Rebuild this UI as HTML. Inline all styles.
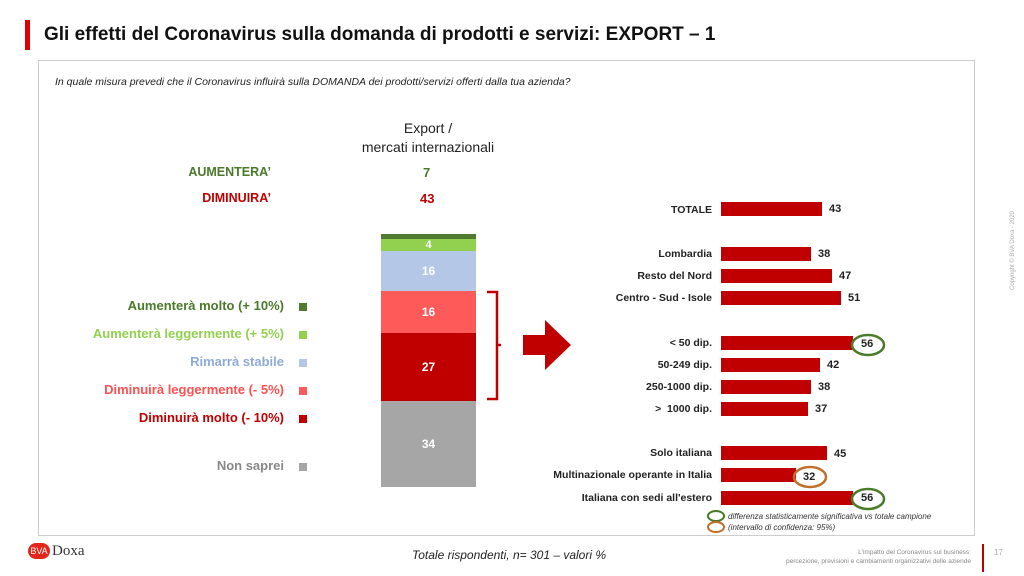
<!DOCTYPE html><html><head><meta charset="utf-8"><style>
body{margin:0;width:1024px;height:576px;background:#fff;font-family:"Liberation Sans",sans-serif;position:relative;overflow:hidden}
.a{position:absolute;white-space:nowrap}
.b{font-weight:bold}
.bar{position:absolute;left:721px;height:14px;background:#c00000}
.rl{position:absolute;right:312px;font-size:10.5px;font-weight:bold;color:#222;white-space:nowrap}
.rv{position:absolute;font-size:11px;font-weight:bold;color:#222}
.lg{position:absolute;right:740px;font-size:13px;font-weight:bold;white-space:nowrap}
.sq{position:absolute;left:299px;width:8px;height:8px}
.seg{position:absolute;left:381px;width:95px;color:#fff;font-weight:bold;font-size:12px;text-align:center;display:flex;align-items:center;justify-content:center}
</style></head><body>
<div class="a" style="left:25px;top:20px;width:5px;height:30px;background:#e00000"></div>
<div class="a b" style="left:44px;top:24px;font-size:19px;color:#111">Gli effetti del Coronavirus sulla domanda di prodotti e servizi: EXPORT – 1</div>
<div class="a" style="left:38px;top:60px;width:935px;height:474px;border:1.5px solid #ccc"></div>
<div class="a" style="left:55px;top:76px;font-size:10.5px;font-style:italic;color:#222">In quale misura prevedi che il Coronavirus influirà sulla DOMANDA dei prodotti/servizi offerti dalla tua azienda?</div>
<div class="a" style="left:328px;top:119px;width:200px;text-align:center;font-size:14px;color:#222;line-height:19px">Export /<br>mercati internazionali</div>
<div class="a b" style="right:753px;top:165px;font-size:12.5px;color:#4a7a2a">AUMENTERA’</div>
<div class="a b" style="right:753px;top:191px;font-size:12.5px;color:#c00000">DIMINUIRA’</div>
<div class="a b" style="left:423px;top:165px;font-size:13px;color:#4a7a2a">7</div>
<div class="a b" style="left:420px;top:191px;font-size:13px;color:#c00000">43</div>
<div class="seg" style="top:234px;height:5px;background:#4f7a30"></div>
<div class="seg" style="top:239px;height:12px;background:#92d050;font-size:11px">4</div>
<div class="seg" style="top:251px;height:40px;background:#b4c7e7">16</div>
<div class="seg" style="top:291px;height:42px;background:#ff5a5a">16</div>
<div class="seg" style="top:333px;height:68px;background:#c00000">27</div>
<div class="seg" style="top:401px;height:86px;background:#a6a6a6">34</div>
<div class="lg" style="top:298px;color:#4a7a2a">Aumenterà molto (+ 10%)</div><div class="sq" style="top:303px;background:#4f7a30"></div>
<div class="lg" style="top:326px;color:#92d050">Aumenterà leggermente (+ 5%)</div><div class="sq" style="top:331px;background:#92d050"></div>
<div class="lg" style="top:354px;color:#8eaadb">Rimarrà stabile</div><div class="sq" style="top:359px;background:#b4c7e7"></div>
<div class="lg" style="top:382px;color:#ff5050">Diminuirà leggermente (- 5%)</div><div class="sq" style="top:387px;background:#ff5a5a"></div>
<div class="lg" style="top:410px;color:#c00000">Diminuirà molto (- 10%)</div><div class="sq" style="top:415px;background:#c00000"></div>
<div class="lg" style="top:458px;color:#888">Non saprei</div><div class="sq" style="top:463px;background:#a6a6a6"></div>
<svg class="a" style="left:485px;top:290px" width="100" height="112"><path d="M2 2H12V109H2M12 55H16" fill="none" stroke="#c00000" stroke-width="2.5"/><path d="M38 45H60V30L86 55L60 80V65H38Z" fill="#c00000"/></svg>
<div class="rl" style="top:204px">TOTALE</div><div class="bar" style="top:202px;width:101px"></div><div class="rv" style="left:829px;top:203px">43</div>
<div class="rl" style="top:248px">Lombardia</div><div class="bar" style="top:247px;width:90px"></div><div class="rv" style="left:818px;top:248px">38</div>
<div class="rl" style="top:270px">Resto del Nord</div><div class="bar" style="top:269px;width:111px"></div><div class="rv" style="left:839px;top:270px">47</div>
<div class="rl" style="top:292px">Centro - Sud - Isole</div><div class="bar" style="top:291px;width:120px"></div><div class="rv" style="left:848px;top:292px">51</div>
<div class="rl" style="top:337px">&lt; 50 dip.</div><div class="bar" style="top:336px;width:132px"></div><div class="rv" style="left:861px;top:338px">56</div>
<div class="rl" style="top:359px">50-249 dip.</div><div class="bar" style="top:358px;width:99px"></div><div class="rv" style="left:827px;top:359px">42</div>
<div class="rl" style="top:381px">250-1000 dip.</div><div class="bar" style="top:380px;width:90px"></div><div class="rv" style="left:818px;top:381px">38</div>
<div class="rl" style="top:403px">&gt;&nbsp; 1000 dip.</div><div class="bar" style="top:402px;width:87px"></div><div class="rv" style="left:815px;top:403px">37</div>
<div class="rl" style="top:447px">Solo italiana</div><div class="bar" style="top:446px;width:106px"></div><div class="rv" style="left:834px;top:448px">45</div>
<div class="rl" style="top:469px">Multinazionale operante in Italia</div><div class="bar" style="top:468px;width:75px"></div><div class="rv" style="left:803px;top:471px">32</div>
<div class="rl" style="top:492px">Italiana con sedi all'estero</div><div class="bar" style="top:491px;width:132px"></div><div class="rv" style="left:861px;top:492px">56</div>
<svg class="a" style="left:0;top:0;pointer-events:none" width="1024" height="576">
<ellipse cx="868" cy="345" rx="16" ry="10" fill="none" stroke="#4a7a2a" stroke-width="2.5"/>
<ellipse cx="810" cy="477" rx="16" ry="10" fill="none" stroke="#c0702a" stroke-width="2.5"/>
<ellipse cx="868" cy="499" rx="16" ry="10" fill="none" stroke="#4a7a2a" stroke-width="2.5"/>
<ellipse cx="716" cy="516" rx="8" ry="5" fill="none" stroke="#4a7a2a" stroke-width="2"/>
<ellipse cx="716" cy="527" rx="8" ry="5" fill="none" stroke="#c0702a" stroke-width="2"/>
</svg>
<div class="a" style="left:728px;top:511px;font-size:8px;font-style:italic;color:#333;line-height:11px">differenza statisticamente significativa vs totale campione<br>(intervallo di confidenza: 95%)</div>
<div class="a" style="left:28px;top:543px;width:22px;height:16px;border-radius:8px;background:#e2261c;color:#fff;font-size:9px;text-align:center;line-height:16px">BVA</div>
<div class="a" style="left:52px;top:543px;font-family:'Liberation Serif',serif;font-size:15px;color:#333">Doxa</div>
<div class="a" style="left:412px;top:548px;font-size:12px;font-style:italic;color:#222">Totale rispondenti, n= 301 – valori %</div>
<div class="a" style="right:53px;top:548px;font-size:6.5px;color:#888;text-align:right;line-height:9px">L'impatto del Coronavirus sul business:<br>percezione, previsioni e cambiamenti organizzativi delle aziende</div>
<div class="a" style="left:982px;top:544px;width:1.5px;height:28px;background:#c00000"></div>
<div class="a" style="left:994px;top:548px;font-size:8px;color:#aaa">17</div>
<div class="a" style="left:1010px;top:290px;font-size:6px;color:#aaa;transform:rotate(-90deg);transform-origin:0 0">Copyright © BVA Doxa - 2020</div>
</body></html>
